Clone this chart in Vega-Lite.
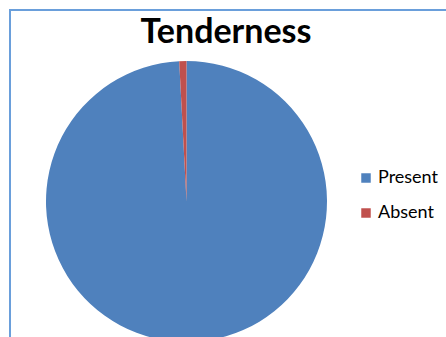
{
  "$schema": "https://vega.github.io/schema/vega-lite/v6.json",
  "autosize": "none",
  "padding": {"left": 10, "top": 10, "right": 0, "bottom": 0},
  "width": 440,
  "height": 332,
  "background": "white",
  "view": {"stroke": "#6A9FDB", "strokeWidth": 2, "fill": "white"},
  "layer": [
    {
      "data": {
        "values": [
          {"status": "Present", "count": 120, "ord": 1},
          {"status": "Absent", "count": 1, "ord": 2}
        ]
      },
      "mark": {"type": "arc", "radius": 140.5, "x": 176.5, "y": 191.5},
      "encoding": {
        "theta": {"field": "count", "type": "quantitative", "stack": true},
        "order": {"field": "ord", "type": "quantitative"},
        "color": {
          "field": "status",
          "type": "nominal",
          "scale": {"domain": ["Present", "Absent"], "range": ["#4F81BD", "#C0504D"]},
          "legend": {
            "title": null,
            "orient": "none",
            "legendX": 347,
            "legendY": 159,
            "symbolType": "square",
            "symbolSize": 90,
            "symbolStrokeWidth": 0,
            "labelFont": "Lato",
            "labelFontSize": 18,
            "labelColor": "#000000",
            "rowPadding": 17,
            "labelOffset": 3
          }
        }
      }
    },
    {
      "data": {"values": [{"label": "Tenderness"}]},
      "mark": {
        "type": "text",
        "font": "Lato",
        "fontSize": 34,
        "fontWeight": "bold",
        "color": "#000000",
        "align": "center",
        "baseline": "alphabetic",
        "x": {"expr": "width/2 - 4"},
        "y": 33
      },
      "encoding": {"text": {"field": "label", "type": "nominal"}}
    }
  ]
}
